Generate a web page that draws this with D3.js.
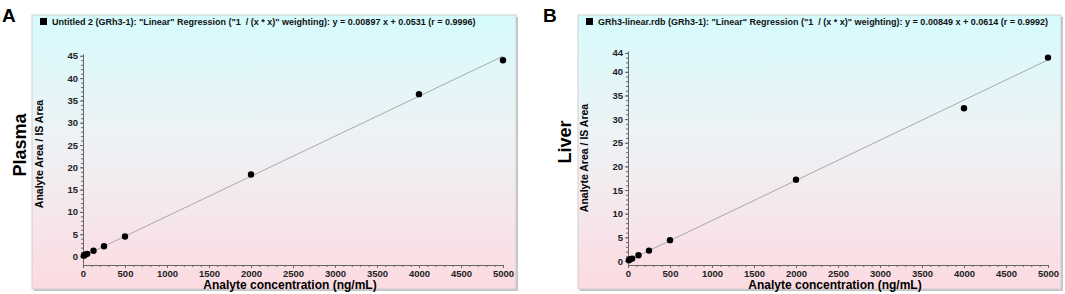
<!DOCTYPE html>
<html lang="en">
<head>
    <title>Calibration curves</title>
    <script src="https://d3js.org/d3.v7.min.js"></script>
    <style>
        body { margin: 0; background: #fff; }
        text { font-family: "Liberation Sans", Arial, sans-serif; }
        .tick text { font-weight: bold; font-size: 9.5px; fill: #222; }
        .domain, .tick line { stroke: #666; }
        .legend { white-space: pre; }
    </style>
</head>
<body>

<script>
    // nominal concentrations (ng/mL)
    const concentrations = [10, 25, 50, 125, 250, 500, 2000, 4000, 5000];

    const plasmaRatios = [0.2, 0.4, 0.6, 1.3, 2.3, 4.5, 18.4, 36.4, 44.0];
    const liverRatios  = [0.15, 0.35, 0.5, 1.2, 2.2, 4.4, 17.2, 32.3, 43.0];

    // regression (slope, intercept)
    const plasmaFit = [0.00897, 0.0531];
    const liverFit  = [0.00849, 0.0614];

    const xTicks = d3.range(0, 5001, 500);
    const plasmaYTicks = [0, 5, 10, 15, 20, 25, 30, 35, 40, 45];
    const liverYTicks  = [0, 5, 10, 15, 20, 25, 30, 35, 40, 44];

    const plasmaLegend = 'Untitled 2 (GRh3-1): "Linear" Regression ("1  / (x * x)" weighting): y = 0.00897 x + 0.0531 (r = 0.9996)';
    const liverLegend  = 'GRh3-linear.rdb (GRh3-1): "Linear" Regression ("1  / (x * x)" weighting): y = 0.00849 x + 0.0614 (r = 0.9992)';

    const svg = d3.select("body").append("svg").attr("width", 1065).attr("height", 294);

    const grad = svg.append("defs").append("linearGradient")
            .attr("id", "bg").attr("x1", 0).attr("y1", 0).attr("x2", 0).attr("y2", 1);
    grad.append("stop").attr("offset", "0%").attr("stop-color", "#d6fbfd");
    grad.append("stop").attr("offset", "45%").attr("stop-color", "#eef2f5");
    grad.append("stop").attr("offset", "100%").attr("stop-color", "#fcdbe1");

    function drawPanel(p) {
        const g = svg.append("g");

        // panel letter
        g.append("text").attr("x", p.letterX).attr("y", 22)
                .style("font-size", "19px").style("font-weight", "bold")
                .text(p.letter);

        // background box with shadow edge
        g.append("rect").attr("x", p.left + 2).attr("y", 17)
                .attr("width", p.boxW).attr("height", 274).attr("fill", "#c4c4c4");
        g.append("rect").attr("x", p.left).attr("y", 15)
                .attr("width", p.boxW).attr("height", 274)
                .attr("fill", "url(#bg)").attr("stroke", "#cfcfcf").attr("stroke-width", 1);

        // legend
        g.append("rect").attr("x", p.left + 8).attr("y", 18).attr("width", 7).attr("height", 7).attr("fill", "#000");
        g.append("text").attr("class", "legend").attr("x", p.left + 20).attr("y", 24.5)
                .style("font-size", "9px").style("font-weight", "bold").attr("fill", "#111")
                .text(p.legend);

        const x = d3.scaleLinear().domain([0, 5000]).range([p.x0, p.x0 + 420]);
        const y = d3.scaleLinear().domain(p.yDomain).range([265, p.yTop]);

        // minor ticks
        g.append("g").attr("transform", "translate(0,265)")
                .call(d3.axisBottom(x).tickValues(d3.range(0, 5001, 100)).tickSize(2).tickFormat(""))
                .call(a => a.select(".domain").remove())
                .selectAll("line").attr("stroke", "#888");
        g.append("g").attr("transform", `translate(${p.x0},0)`)
                .call(d3.axisLeft(y).tickValues(d3.range(0, p.yDomain[1] + 0.01, 1)).tickSize(2).tickFormat(""))
                .call(a => a.select(".domain").remove())
                .selectAll("line").attr("stroke", "#888");

        // major axes
        g.append("g").attr("transform", "translate(0,265)")
                .call(d3.axisBottom(x).tickValues(xTicks).tickFormat(d3.format("d"))
                        .tickSize(3).tickSizeOuter(0).tickPadding(2));
        g.append("g").attr("transform", `translate(${p.x0},0)`)
                .call(d3.axisLeft(y).tickValues(p.yTicks).tickSize(3).tickSizeOuter(0).tickPadding(2));

        // regression line
        g.append("line")
                .attr("x1", x(0)).attr("y1", y(p.fit[1]))
                .attr("x2", x(5000)).attr("y2", y(p.fit[0] * 5000 + p.fit[1]))
                .attr("stroke", "#a8a8a8").attr("stroke-width", 1);

        // points
        g.append("g").selectAll("circle")
                .data(concentrations.map((c, i) => [c, p.ratios[i]]))
                .join("circle")
                .attr("cx", d => x(d[0])).attr("cy", d => y(d[1]))
                .attr("r", 3.2).attr("fill", "#000");

        // axis titles
        g.append("text").attr("x", p.x0 + 207).attr("y", 289)
                .attr("text-anchor", "middle")
                .style("font-size", "12px").style("font-weight", "bold")
                .text("Analyte concentration (ng/mL)");
        g.append("text")
                .attr("transform", `translate(${p.yLabelX},${p.yLabelY}) rotate(-90)`)
                .attr("text-anchor", "middle")
                .style("font-size", "10.5px").style("font-weight", "bold")
                .text("Analyte Area / IS Area");
        g.append("text")
                .attr("transform", `translate(${p.tissueX},${p.tissueY}) rotate(-90)`)
                .attr("text-anchor", "middle")
                .style("font-size", "18px").style("font-weight", "bold")
                .text(p.tissue);
    }

    drawPanel({
        letter: "A", letterX: 2, left: 32, boxW: 484, legend: plasmaLegend,
        x0: 83, yDomain: [-1.9, 45.4], yTop: 54, yTicks: plasmaYTicks,
        fit: plasmaFit, ratios: plasmaRatios,
        yLabelX: 43, yLabelY: 154, tissue: "Plasma", tissueX: 26, tissueY: 145
    });
    drawPanel({
        letter: "B", letterX: 543, left: 578, boxW: 483, legend: liverLegend,
        x0: 628, yDomain: [-0.85, 44.4], yTop: 51, yTicks: liverYTicks,
        fit: liverFit, ratios: liverRatios,
        yLabelX: 588, yLabelY: 158, tissue: "Liver", tissueX: 571, tissueY: 142
    });
</script>

</body>
</html>
